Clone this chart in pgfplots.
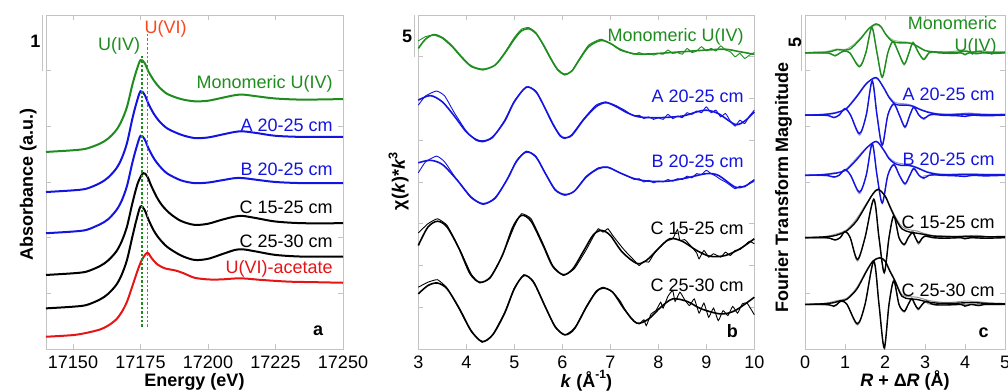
\documentclass[border=0pt]{standalone}
\usepackage{pgfplots}
\pgfplotsset{compat=1.18}
\usepackage{fontspec}
\setmainfont{Liberation Sans}
\definecolor{cgreen}{RGB}{30,140,30}
\definecolor{cblue}{RGB}{20,20,225}
\definecolor{cred}{RGB}{230,20,20}
\definecolor{corange}{RGB}{250,70,30}
\definecolor{cax}{RGB}{195,195,195}
\definecolor{lgreen}{RGB}{140,200,140}
\definecolor{lblue}{RGB}{150,150,240}
\definecolor{lgray}{RGB}{150,150,150}
\newcommand\fs{\fontsize{9bp}{10.8bp}\selectfont}
\newcommand\mysup[1]{\raisebox{0.5em}{\fontsize{6bp}{7bp}\selectfont #1}}
\begin{document}
\fs
\begin{tikzpicture}
\useasboundingbox (0,0) rectangle (504bp,196bp);
\pgfplotsset{
  myaxis/.style={
    scale only axis, clip=false,
    height=167bp,
    anchor=south west,
    axis line style={cax, line width=0.5bp},
    every tick/.style={cax, line width=0.5bp},
    major tick length=2.5bp,
    tick align=inside,
    yticklabel=\empty,
    xticklabel style={anchor=base, yshift=-9.6bp, text=black, font=\fs},
  },
}
% ---------------- panel a ----------------
\begin{axis}[myaxis, at={(23bp,21.5bp)}, width=148.5bp,
  xmin=17140, xmax=17250, ymin=0, ymax=6,
  xtick={17150,17175,17200,17225,17250},
  xticklabels={17150,17175,17200,17225,17250},
  ytick={1,2,3,4,5}]
\addplot[cgreen, line width=1bp, smooth] coordinates {
(17140,3.54) (17150,3.57) (17155,3.60) (17160,3.69) (17163,3.78) (17166,3.93) (17168,4.10) (17170,4.35) (17172,4.75) (17173.5,5.00) (17175,5.19) (17176.5,5.14) (17178,4.98) (17180,4.82) (17182,4.70) (17185,4.58) (17190,4.49) (17195,4.45) (17200,4.46) (17205,4.51) (17210,4.56) (17213,4.57) (17218,4.54) (17225,4.50) (17235,4.48) (17250,4.49)};
\addplot[cblue, line width=1bp, smooth] coordinates {
(17140,2.82) (17150,2.85) (17155,2.88) (17160,2.98) (17163,3.08) (17166,3.24) (17168,3.42) (17170,3.70) (17172,4.14) (17173.5,4.42) (17175,4.63) (17176.5,4.57) (17178,4.40) (17180,4.22) (17182,4.09) (17185,3.96) (17190,3.85) (17195,3.79) (17200,3.80) (17205,3.85) (17210,3.90) (17213,3.91) (17218,3.88) (17225,3.83) (17235,3.81) (17250,3.81)};
\addplot[cblue, line width=1bp, smooth] coordinates {
(17140,2.08) (17150,2.11) (17155,2.14) (17160,2.24) (17163,2.33) (17166,2.49) (17168,2.66) (17170,2.93) (17172,3.35) (17173.5,3.62) (17175,3.83) (17176.5,3.77) (17178,3.60) (17180,3.42) (17182,3.29) (17185,3.15) (17190,3.03) (17195,2.98) (17200,2.99) (17205,3.03) (17210,3.07) (17213,3.07) (17218,3.04) (17225,3.00) (17235,2.98) (17250,2.98)};
\addplot[black, line width=1bp, smooth] coordinates {
(17140,1.33) (17150,1.36) (17155,1.39) (17160,1.49) (17163,1.59) (17166,1.75) (17168,1.93) (17170,2.20) (17172,2.62) (17174,2.98) (17176,3.16) (17177.5,3.10) (17179,2.93) (17181,2.73) (17183,2.58) (17186,2.43) (17190,2.30) (17195,2.23) (17200,2.25) (17205,2.32) (17210,2.38) (17213,2.39) (17218,2.35) (17225,2.29) (17235,2.26) (17250,2.26)};
\addplot[black, line width=1bp, smooth] coordinates {
(17140,0.73) (17150,0.76) (17155,0.79) (17160,0.89) (17163,0.99) (17166,1.15) (17168,1.33) (17170,1.60) (17172,2.02) (17173.5,2.32) (17175,2.56) (17176.5,2.50) (17178,2.32) (17180,2.12) (17182,1.98) (17185,1.83) (17190,1.68) (17195,1.60) (17200,1.62) (17205,1.70) (17210,1.78) (17213,1.79) (17218,1.75) (17225,1.69) (17235,1.66) (17250,1.66)};
\addplot[cred, line width=1bp, smooth] coordinates {
(17140,0.22) (17150,0.25) (17155,0.29) (17160,0.35) (17163,0.42) (17166,0.53) (17168,0.66) (17170,0.85) (17172,1.13) (17174,1.42) (17175.5,1.60) (17177.5,1.73) (17179,1.64) (17181,1.53) (17184,1.45) (17188,1.41) (17191,1.36) (17195,1.28) (17200,1.25) (17205,1.25) (17212,1.27) (17220,1.24) (17230,1.21) (17240,1.20) (17250,1.19)};
\addplot[cgreen, line width=0.9bp, dash pattern=on 1.2bp off 1bp] coordinates {(17175.5,0.40) (17175.5,5.28)};
\addplot[corange, line width=0.9bp, dash pattern=on 1.2bp off 1bp] coordinates {(17177.6,0.40) (17177.6,5.69)};
\node[anchor=base, text=cgreen] at (axis cs:17167.1,5.37) {U(IV)};
\node[anchor=base, text=corange] at (axis cs:17184.3,5.67) {U(VI)};
\node[anchor=base east, text=cgreen] at (axis cs:17248.5,4.68) {Monomeric U(IV)};
\node[anchor=base east, text=cblue] at (axis cs:17248.5,3.90) {A 20-25 cm};
\node[anchor=base east, text=cblue] at (axis cs:17248.5,3.11) {B 20-25 cm};
\node[anchor=base east, text=black] at (axis cs:17248.5,2.44) {C 15-25 cm};
\node[anchor=base east, text=black] at (axis cs:17248.5,1.83) {C 25-30 cm};
\node[anchor=base east, text=cred] at (axis cs:17248.5,1.36) {U(VI)-acetate};
\node[anchor=base east, font=\fs\bfseries] at (axis cs:17245,0.25) {a};
\draw[cax, line width=0.7bp] ([xshift=-1.65bp]axis cs:17140,5) -- ([xshift=-1.65bp]axis cs:17140,6);
\node[anchor=base, font=\fs\bfseries] at ([xshift=-5.25bp]axis cs:17140,5.42) {1};
\node[anchor=base, inner sep=0pt, font=\fs\bfseries] at ([yshift=-18.9bp]rel axis cs:0.5,0) {Energy (eV)};
\node[anchor=base, rotate=90, font=\fs\bfseries] at ([xshift=-6.5bp]rel axis cs:0,0.494) {Absorbance (a.u.)};
\end{axis}
% ---------------- panel b ----------------
\begin{axis}[myaxis, at={(209.15bp,21.5bp)}, width=168bp,
  xmin=3, xmax=10, ymin=0, ymax=40,
  xtick={3,4,5,6,7,8,9,10},
  xticklabels={3,4,5,6,7,8,9,10},
  ytick={5,10,15,20,25,30,35}]
% green
\addplot[cgreen, line width=0.45bp, smooth, tension=0.3] coordinates {
(3.0,36.9) (3.15,37.4) (3.32,37.6) (3.5,37.2) (3.7,36.2) (3.9,34.9) (4.1,33.8) (4.35,33.4) (4.6,34.0) (4.8,35.5) (5.0,37.3) (5.15,38.3) (5.3,38.5) (5.45,37.9) (5.6,36.4) (5.75,34.8) (5.9,33.4) (6.05,32.8) (6.2,33.3) (6.35,34.7) (6.55,36.4) (6.8,37.1) (7.0,36.6) (7.2,35.8) (7.3,35.6) (7.4,35.5) (7.5,35.3) (7.6,35.5) (7.7,35.3) (7.8,35.4) (7.9,35.2) (8.0,35.4) (8.1,35.3) (8.2,35.8) (8.3,35.4) (8.4,35.5) (8.5,35.3) (8.6,36.0) (8.7,35.5) (8.8,35.7) (8.9,36.2) (9.0,35.7) (9.1,36.0) (9.2,35.7) (9.3,36.3) (9.4,35.8) (9.5,35.6) (9.6,35.0) (9.7,35.4) (9.8,34.8) (9.9,35.2) (10.0,35.5)};
\addplot[cgreen, line width=0.8bp, smooth] coordinates {
(3.0,36.0) (3.15,37.1) (3.32,37.65) (3.5,37.3) (3.7,36.3) (3.9,35.0) (4.1,33.9) (4.35,33.5) (4.6,34.0) (4.8,35.4) (5.0,37.1) (5.15,38.1) (5.3,38.35) (5.45,37.8) (5.6,36.5) (5.75,34.9) (5.9,33.5) (6.05,32.9) (6.2,33.3) (6.35,34.6) (6.55,36.2) (6.8,36.95) (7.0,36.6) (7.2,35.9) (7.45,35.4) (7.7,35.3) (8.0,35.4) (8.5,35.6) (9.0,35.8) (9.4,35.9) (9.7,35.6) (10.0,35.3)};
% A
\addplot[cblue, line width=0.45bp, smooth, tension=0.3] coordinates {
(3.0,29.2) (3.15,30.3) (3.38,30.9) (3.55,30.3) (3.75,28.3) (4.0,26.1) (4.2,25.0) (4.35,24.8) (4.55,25.3) (4.8,27.4) (5.0,29.7) (5.25,31.4) (5.45,30.9) (5.6,29.3) (5.8,26.9) (5.95,25.5) (6.05,25.2) (6.2,25.7) (6.45,27.6) (6.7,29.2) (6.9,29.6) (7.1,29.2) (7.3,28.6) (7.4,28.2) (7.5,27.9) (7.6,28.0) (7.7,27.6) (7.8,27.8) (7.9,27.5) (8.0,27.7) (8.1,27.5) (8.2,28.1) (8.3,27.6) (8.4,27.9) (8.5,27.7) (8.6,28.3) (8.7,28.1) (8.8,28.5) (8.9,28.3) (9.0,29.0) (9.1,28.3) (9.2,28.6) (9.3,27.8) (9.4,28.2) (9.5,27.3) (9.6,26.7) (9.7,27.4) (9.8,27.0) (9.9,27.9) (10.0,28.6)};
\addplot[cblue, line width=0.8bp, smooth] coordinates {
(3.0,29.8) (3.25,30.35) (3.5,29.6) (3.75,27.9) (4.0,26.0) (4.2,25.1) (4.35,24.9) (4.55,25.4) (4.8,27.3) (5.0,29.6) (5.25,31.35) (5.45,30.8) (5.6,29.3) (5.8,27.0) (5.95,25.6) (6.05,25.3) (6.2,25.6) (6.45,27.5) (6.7,29.0) (6.9,29.5) (7.1,29.1) (7.35,28.3) (7.6,27.8) (8.0,27.7) (8.5,27.9) (8.8,28.4) (9.0,28.6) (9.25,28.2) (9.6,26.9) (9.8,27.3) (10.0,28.4)};
% B
\addplot[cblue, line width=0.45bp, smooth, tension=0.3] coordinates {
(3.0,21.1) (3.15,22.4) (3.38,23.1) (3.55,22.4) (3.8,20.3) (4.1,18.1) (4.35,17.3) (4.6,18.0) (4.85,20.3) (5.05,22.6) (5.25,23.7) (5.45,23.1) (5.65,21.0) (5.85,19.0) (6.05,18.4) (6.25,18.9) (6.5,20.7) (6.75,21.7) (6.95,21.8) (7.2,21.1) (7.4,20.6) (7.5,20.3) (7.6,20.4) (7.7,20.0) (7.8,20.2) (7.9,19.9) (8.0,20.1) (8.1,20.0) (8.2,20.3) (8.3,20.1) (8.4,20.4) (8.5,20.3) (8.6,20.7) (8.7,20.5) (8.8,21.0) (8.9,20.9) (9.0,21.4) (9.1,21.0) (9.2,20.7) (9.3,20.3) (9.4,20.0) (9.5,19.6) (9.6,19.2) (9.7,19.5) (9.8,19.4) (9.9,19.9) (10.0,20.3)};
\addplot[cblue, line width=0.8bp, smooth] coordinates {
(3.0,22.3) (3.25,22.6) (3.5,22.1) (3.8,20.3) (4.1,18.2) (4.35,17.4) (4.6,18.1) (4.85,20.3) (5.05,22.5) (5.25,23.6) (5.45,23.0) (5.65,21.0) (5.85,19.1) (6.05,18.5) (6.25,18.9) (6.5,20.6) (6.75,21.6) (6.95,21.75) (7.2,21.1) (7.5,20.4) (7.8,20.1) (8.2,20.1) (8.6,20.5) (9.0,21.0) (9.25,20.8) (9.6,19.4) (9.8,19.5) (10.0,20.2)};
% C 15-25
\addplot[black, line width=0.45bp, smooth, tension=0.25] coordinates {
(3.0,13.9) (3.2,15.0) (3.4,15.6) (3.6,14.8) (3.85,12.1) (4.1,9.0) (4.28,7.9) (4.5,8.5) (4.75,11.2) (5.0,14.7) (5.15,16.2) (5.35,15.6) (5.6,12.6) (5.8,10.0) (6.02,8.8) (6.25,9.6) (6.5,11.9) (6.65,13.5) (6.75,14.4) (6.85,14.0) (6.95,14.4) (7.05,13.6) (7.2,12.5) (7.3,11.8) (7.4,11.2) (7.5,10.6) (7.6,10.0) (7.7,10.5) (7.8,10.4) (7.9,11.3) (8.0,12.0) (8.1,12.6) (8.2,13.0) (8.3,13.2) (8.4,14.3) (8.45,13.0) (8.55,13.1) (8.7,12.2) (8.8,11.5) (8.85,10.8) (8.95,11.8) (9.05,11.0) (9.15,11.4) (9.3,11.0) (9.4,11.6) (9.5,11.2) (9.6,11.8) (9.7,11.9) (9.8,12.4) (9.9,12.9) (10.0,12.6)};
\addplot[black, line width=0.8bp, smooth] coordinates {
(3.0,12.4) (3.2,14.6) (3.4,15.3) (3.6,14.6) (3.85,12.0) (4.08,9.0) (4.28,8.0) (4.5,8.6) (4.75,11.2) (4.97,14.6) (5.15,16.0) (5.35,15.3) (5.6,12.4) (5.8,9.9) (6.02,8.9) (6.22,9.6) (6.45,11.8) (6.65,13.7) (6.82,14.2) (7.0,13.6) (7.25,11.6) (7.55,10.25) (7.75,10.6) (8.0,12.0) (8.24,13.2) (8.5,12.9) (8.8,11.8) (9.08,11.1) (9.4,11.2) (9.7,12.0) (10.0,13.2)};
% C 25-30
\addplot[black, line width=0.45bp, smooth, tension=0.25] coordinates {
(3.0,7.4) (3.2,8.0) (3.4,8.3) (3.6,7.3) (3.85,4.8) (4.1,2.1) (4.33,0.8) (4.55,1.7) (4.8,4.4) (5.0,7.3) (5.2,8.9) (5.4,8.1) (5.65,5.0) (5.85,2.6) (6.05,1.7) (6.2,2.2) (6.3,2.9) (6.5,5.1) (6.7,6.9) (6.85,7.4) (7.05,6.8) (7.2,5.8) (7.3,4.8) (7.4,3.9) (7.5,3.3) (7.6,3.0) (7.7,3.5) (7.75,2.8) (7.85,4.2) (7.95,4.6) (8.05,5.6) (8.1,4.9) (8.2,6.3) (8.3,7.0) (8.35,5.7) (8.45,6.8) (8.55,5.9) (8.65,5.2) (8.75,6.0) (8.85,4.3) (8.95,5.5) (9.05,3.8) (9.15,4.9) (9.25,3.4) (9.35,4.6) (9.45,4.0) (9.55,5.1) (9.65,4.3) (9.75,5.4) (9.85,5.5) (10.0,4.1)};
\addplot[black, line width=0.8bp, smooth] coordinates {
(3.0,6.6) (3.2,7.6) (3.4,7.9) (3.6,7.2) (3.85,4.9) (4.1,2.2) (4.33,0.9) (4.55,1.7) (4.8,4.3) (5.0,7.2) (5.2,8.8) (5.4,8.0) (5.65,5.0) (5.85,2.7) (6.05,1.7) (6.25,2.4) (6.5,5.0) (6.7,6.8) (6.85,7.3) (7.05,6.8) (7.3,4.7) (7.55,3.1) (7.8,3.6) (8.05,5.0) (8.3,6.0) (8.6,5.7) (8.9,4.8) (9.3,4.2) (9.6,4.6) (10.0,6.2)};
\node[anchor=base east, text=cgreen] at (axis cs:9.91,36.88) {Monomeric U(IV)};
\node[anchor=base east, text=cblue] at (axis cs:9.91,29.57) {A 20-25 cm};
\node[anchor=base east, text=cblue] at (axis cs:9.91,21.7) {B 20-25 cm};
\node[anchor=base east, text=black] at (axis cs:9.91,13.7) {C 15-25 cm};
\node[anchor=base east, text=black] at (axis cs:9.91,6.9) {C 25-30 cm};
\node[anchor=base east, font=\fs\bfseries] at (axis cs:9.79,1.32) {b};
\draw[cax, line width=0.7bp] ([xshift=-2bp]axis cs:3,35) -- ([xshift=-2bp]axis cs:3,40);
\node[anchor=base, font=\fs\bfseries] at ([xshift=-5.65bp]axis cs:3,36.7) {5};
\node[anchor=base, inner sep=0pt, font=\fs\bfseries] at ([yshift=-19.3bp]rel axis cs:0.5,0) {\textit{k} (Å\mysup{-1})};
\node[anchor=base, rotate=90, font=\fs\bfseries] at ([xshift=-6.7bp]rel axis cs:0,0.504) {χ(\textit{k})*\textit{k}\textsuperscript{3}};
\end{axis}
% ---------------- panel c ----------------
\begin{axis}[myaxis, at={(402.5bp,21.5bp)}, width=100bp,
  xmin=0, xmax=5, ymin=0, ymax=30,
  xtick={0,1,2,3,4,5},
  xticklabels={0,1,2,3,4,5},
  ytick={5,10,15,20,25}]
% data (light)
\addplot[lgreen, line width=0.5bp, smooth] coordinates {
(0,26.6) (0.5,26.7) (0.8,26.95) (1.0,26.9) (1.2,27.3) (1.4,28.0) (1.6,28.75) (1.78,29.1) (1.9,28.9) (2.0,28.4) (2.1,28.0) (2.2,27.75) (2.4,27.6) (2.6,27.55) (2.8,27.25) (3.0,26.85) (3.2,26.7) (3.6,26.7) (3.85,26.8) (4.0,26.85) (4.15,26.7) (4.4,26.8) (4.6,26.7) (5.0,26.7)};
\addplot[lgreen, line width=0.5bp, smooth] coordinates {
(0,26.6) (0.6,26.55) (0.75,26.3) (0.88,26.6) (0.98,26.8) (1.12,26.6) (1.36,25.45) (1.52,26.6) (1.67,28.8) (1.8,26.6) (1.93,24.5) (2.07,26.6) (2.2,27.7) (2.34,26.6) (2.48,25.5) (2.6,26.6) (2.7,27.6) (2.84,26.6) (2.97,26.1) (3.1,26.6) (3.4,26.6) (3.9,26.6) (4.0,26.4) (4.1,26.6) (4.5,26.6) (5.0,26.6)};
\addplot[lblue, line width=0.5bp, smooth] coordinates {
(0,21.0) (0.5,21.1) (0.75,21.25) (0.9,21.35) (1.04,21.65) (1.29,22.75) (1.54,23.9) (1.78,24.3) (1.96,23.55) (2.1,22.7) (2.25,22.15) (2.4,22.05) (2.55,22.0) (2.7,21.85) (2.85,21.6) (3.04,21.35) (3.3,21.15) (3.6,21.1) (3.9,21.15) (4.1,21.2) (4.4,21.1) (4.7,21.1) (5.0,21.1)};
\addplot[lblue, line width=0.5bp, smooth] coordinates {
(0,21.0) (0.6,20.95) (0.72,20.75) (0.85,21.0) (1.0,21.55) (1.14,21.0) (1.36,19.2) (1.53,21.0) (1.68,24.0) (1.8,21.0) (1.93,18.4) (2.07,21.0) (2.22,22.1) (2.36,21.0) (2.5,19.85) (2.62,21.0) (2.72,21.75) (2.85,21.0) (2.97,20.6) (3.1,21.0) (3.4,21.0) (3.9,21.0) (4.0,20.85) (4.15,21.0) (5.0,21.0)};
\addplot[lblue, line width=0.5bp, smooth] coordinates {
(0,15.6) (0.5,15.7) (0.75,15.85) (0.9,15.9) (1.04,16.2) (1.29,17.15) (1.54,18.1) (1.78,18.6) (1.96,17.95) (2.1,17.2) (2.25,16.8) (2.4,16.65) (2.55,16.6) (2.7,16.45) (2.85,16.25) (3.04,15.95) (3.3,15.75) (3.6,15.7) (5.0,15.7)};
\addplot[lblue, line width=0.5bp, smooth] coordinates {
(0,15.6) (0.6,15.55) (0.72,15.4) (0.85,15.6) (1.0,16.15) (1.14,15.6) (1.36,13.95) (1.53,15.6) (1.68,18.35) (1.8,15.6) (1.93,13.2) (2.07,15.6) (2.22,16.65) (2.36,15.6) (2.5,14.75) (2.62,15.6) (2.72,16.3) (2.85,15.6) (2.97,15.3) (3.1,15.6) (5.0,15.6)};
\addplot[lgray, line width=0.5bp, smooth] coordinates {
(0,10.0) (0.5,10.1) (0.8,10.35) (1.04,10.7) (1.29,11.7) (1.54,13.1) (1.7,13.9) (1.83,14.3) (2.0,13.8) (2.12,12.9) (2.25,11.95) (2.42,11.0) (2.62,10.7) (2.8,10.6) (2.96,10.4) (3.2,10.2) (3.5,10.15) (4.0,10.15) (4.3,10.2) (4.6,10.1) (5.0,10.1)};
\addplot[lgray, line width=0.5bp, smooth] coordinates {
(0,10.0) (0.62,9.95) (0.75,9.75) (0.88,10.0) (1.0,10.6) (1.13,10.0) (1.31,7.9) (1.5,10.0) (1.72,13.35) (1.85,10.0) (1.98,6.95) (2.1,10.0) (2.22,12.05) (2.35,10.0) (2.48,9.3) (2.58,10.0) (2.69,10.6) (2.76,10.0) (2.84,9.4) (2.94,10.0) (3.04,10.25) (3.2,10.0) (5.0,10.0)};
\addplot[lgray, line width=0.5bp, smooth] coordinates {
(0,4.0) (0.5,4.1) (0.8,4.35) (1.04,4.55) (1.29,5.5) (1.54,7.1) (1.7,7.9) (1.87,8.15) (2.0,7.95) (2.12,7.1) (2.25,6.2) (2.42,4.9) (2.62,4.7) (2.8,4.65) (3.1,4.35) (3.4,4.2) (3.7,4.2) (4.0,4.3) (4.3,4.25) (4.6,4.15) (5.0,4.1)};
\addplot[lgray, line width=0.5bp, smooth] coordinates {
(0,4.0) (0.62,3.95) (0.72,3.8) (0.8,4.0) (0.9,4.35) (1.05,4.0) (1.31,2.15) (1.5,4.0) (1.72,7.8) (1.85,4.0) (1.98,0.15) (2.1,4.0) (2.22,6.2) (2.35,4.0) (2.48,3.3) (2.58,4.0) (2.67,4.6) (2.75,4.0) (2.83,3.5) (2.93,4.0) (3.04,4.35) (3.2,4.0) (5.0,4.0)};
% fits
\addplot[cgreen, line width=0.7bp, smooth] coordinates {
(0,26.6) (0.3,26.65) (0.5,26.65) (0.65,26.72) (0.8,26.88) (0.95,26.85) (1.1,26.9) (1.2,27.15) (1.4,27.9) (1.6,28.8) (1.78,29.2) (1.9,28.95) (2.0,28.35) (2.1,27.9) (2.2,27.6) (2.35,27.5) (2.5,27.5) (2.65,27.45) (2.8,27.2) (3.0,26.8) (3.2,26.7) (3.5,26.65) (3.8,26.65) (4.0,26.75) (4.15,26.65) (4.35,26.72) (4.5,26.65) (5.0,26.65)};
\addplot[cgreen, line width=0.7bp, smooth] coordinates {
(0,26.6) (0.5,26.6) (0.62,26.55) (0.75,26.35) (0.88,26.6) (0.98,26.75) (1.12,26.6) (1.36,25.35) (1.52,26.6) (1.67,28.9) (1.8,26.6) (1.93,24.4) (2.07,26.6) (2.2,27.6) (2.34,26.6) (2.48,25.6) (2.6,26.6) (2.7,27.5) (2.84,26.6) (2.97,26.0) (3.1,26.6) (3.2,26.7) (3.35,26.6) (3.7,26.55) (3.9,26.6) (4.0,26.45) (4.1,26.6) (4.3,26.52) (4.45,26.6) (4.7,26.55) (5.0,26.6)};
\addplot[cblue, line width=0.7bp, smooth] coordinates {
(0,21.0) (0.4,21.05) (0.7,21.15) (0.85,21.3) (1.04,21.6) (1.29,22.65) (1.54,23.85) (1.78,24.38) (1.96,23.5) (2.1,22.6) (2.25,22.0) (2.4,21.9) (2.55,21.9) (2.7,21.8) (2.85,21.55) (3.04,21.3) (3.3,21.1) (3.6,21.05) (4.0,21.1) (4.3,21.08) (4.6,21.04) (5.0,21.05)};
\addplot[cblue, line width=0.7bp, smooth] coordinates {
(0,21.0) (0.5,21.0) (0.6,20.95) (0.72,20.8) (0.85,21.0) (1.0,21.6) (1.14,21.0) (1.36,19.35) (1.53,21.0) (1.68,24.1) (1.8,21.0) (1.93,18.3) (2.07,21.0) (2.22,22.0) (2.36,21.0) (2.5,19.95) (2.62,21.0) (2.72,21.7) (2.85,21.0) (2.97,20.7) (3.1,21.0) (3.25,21.1) (3.4,21.0) (3.8,20.95) (4.0,20.9) (4.2,21.0) (4.5,20.95) (5.0,21.0)};
\addplot[cblue, line width=0.7bp, smooth] coordinates {
(0,15.6) (0.4,15.65) (0.7,15.75) (0.85,15.85) (1.04,16.1) (1.29,17.0) (1.54,18.05) (1.78,18.65) (1.96,17.9) (2.1,17.1) (2.25,16.65) (2.4,16.5) (2.55,16.5) (2.7,16.4) (2.85,16.2) (3.04,15.9) (3.3,15.7) (3.6,15.65) (4.0,15.7) (4.3,15.68) (4.6,15.64) (5.0,15.65)};
\addplot[cblue, line width=0.7bp, smooth] coordinates {
(0,15.6) (0.5,15.6) (0.6,15.55) (0.72,15.45) (0.85,15.6) (1.0,16.1) (1.14,15.6) (1.36,14.1) (1.53,15.6) (1.68,18.45) (1.8,15.6) (1.93,13.1) (2.07,15.6) (2.22,16.55) (2.36,15.6) (2.5,14.85) (2.62,15.6) (2.72,16.2) (2.85,15.6) (2.97,15.35) (3.1,15.6) (3.25,15.65) (3.4,15.6) (3.8,15.55) (4.0,15.5) (4.2,15.6) (4.5,15.55) (5.0,15.6)};
\addplot[black, line width=0.7bp, smooth] coordinates {
(0,10.0) (0.4,10.05) (0.7,10.15) (0.85,10.3) (1.04,10.6) (1.29,11.5) (1.54,13.0) (1.7,13.95) (1.83,14.35) (2.0,13.75) (2.12,12.8) (2.25,11.8) (2.42,10.8) (2.62,10.5) (2.8,10.4) (2.96,10.3) (3.2,10.15) (3.5,10.1) (3.8,10.08) (4.0,10.12) (4.3,10.1) (4.6,10.08) (5.0,10.1)};
\addplot[black, line width=0.7bp, smooth] coordinates {
(0,10.0) (0.5,10.0) (0.62,9.95) (0.75,9.8) (0.88,10.0) (1.0,10.55) (1.13,10.0) (1.31,8.05) (1.5,10.0) (1.72,13.45) (1.85,10.0) (1.98,6.85) (2.1,10.0) (2.22,11.95) (2.35,10.0) (2.48,9.4) (2.58,10.0) (2.69,10.45) (2.76,10.0) (2.84,9.55) (2.94,10.0) (3.04,10.15) (3.2,10.0) (3.5,9.95) (3.9,10.0) (4.0,9.9) (4.15,10.0) (4.5,9.95) (5.0,10.0)};
\addplot[black, line width=0.7bp, smooth] coordinates {
(0,4.0) (0.4,4.05) (0.7,4.15) (0.9,4.35) (1.04,4.45) (1.29,5.35) (1.54,7.0) (1.7,7.9) (1.87,8.2) (2.0,7.9) (2.12,7.0) (2.25,6.1) (2.42,4.75) (2.62,4.5) (2.8,4.45) (3.1,4.2) (3.4,4.1) (3.7,4.1) (4.0,4.15) (4.3,4.15) (4.6,4.08) (5.0,4.05)};
\addplot[black, line width=0.7bp, smooth] coordinates {
(0,4.0) (0.5,4.0) (0.62,3.95) (0.72,3.85) (0.8,4.0) (0.9,4.3) (1.05,4.0) (1.31,2.27) (1.5,4.0) (1.72,7.89) (1.85,4.0) (1.98,0.1) (2.1,4.0) (2.22,6.1) (2.35,4.0) (2.48,3.4) (2.58,4.0) (2.67,4.5) (2.75,4.0) (2.83,3.6) (2.93,4.0) (3.04,4.3) (3.2,4.0) (3.5,3.95) (3.9,4.0) (4.0,3.85) (4.15,4.0) (4.35,3.9) (4.5,4.0) (5.0,4.0)};
\node[anchor=base east, text=cgreen] at (axis cs:4.96,28.66) {Monomeric};
\node[anchor=base east, text=cgreen] at (axis cs:4.95,26.7) {U(IV)};
\node[anchor=base east, text=cblue] at (axis cs:4.9,22.3) {A 20-25 cm};
\node[anchor=base east, text=cblue] at (axis cs:4.9,16.5) {B 20-25 cm};
\node[anchor=base east, text=black] at (axis cs:4.9,10.8) {C 15-25 cm};
\node[anchor=base east, text=black] at (axis cs:4.9,4.72) {C 25-30 cm};
\node[anchor=base east, font=\fs\bfseries] at (axis cs:4.75,1.04) {c};
\draw[cax, line width=0.7bp] ([xshift=-1.65bp]axis cs:0,25) -- ([xshift=-1.65bp]axis cs:0,30);
\node[rotate=90, font=\fs\bfseries] at ([xshift=-5bp]axis cs:0,27.5) {5};
\node[anchor=base, inner sep=0pt, font=\fs\bfseries] at ([yshift=-18.9bp]rel axis cs:0.5,0) {\textit{R} + Δ\textit{R} (Å)};
\node[anchor=base, rotate=90, font=\fs\bfseries] at ([xshift=-8.5bp]rel axis cs:0,0.485) {Fourier Transform Magnitude};
\end{axis}
\end{tikzpicture}
\end{document}
